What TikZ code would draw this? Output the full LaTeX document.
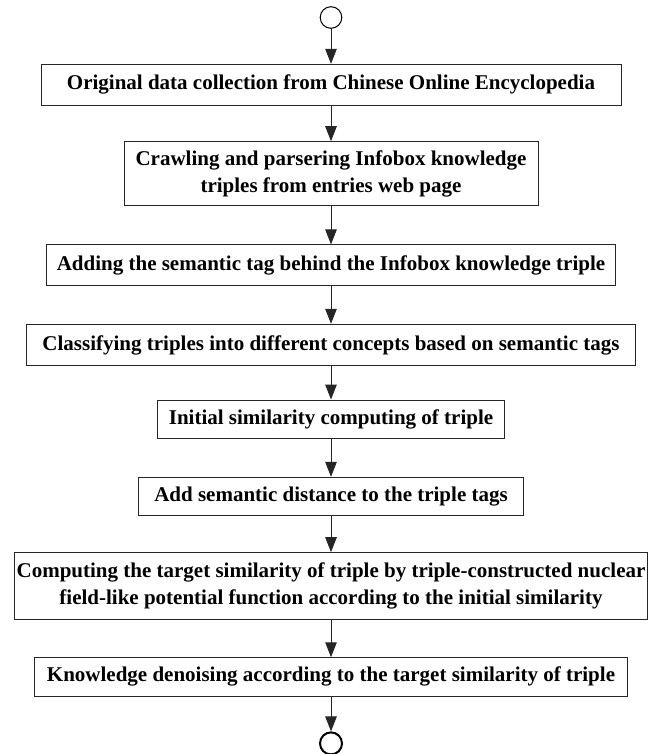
\documentclass[tikz,border=0pt]{standalone}
\usepackage{fontspec}
\setmainfont{Liberation Serif}
\usetikzlibrary{arrows.meta}
\begin{document}
\begin{tikzpicture}[x=1pt,y=-1pt,
  box/.style={draw=black!85, line width=1pt, inner sep=0pt, align=center,
    font=\fontsize{21}{27}\selectfont\bfseries},
  arr/.style={draw=black!85, line width=1pt, -{Triangle[width=11.5pt,length=15pt]}},
  endpt/.style={draw=black, circle, inner sep=0pt}]
\useasboundingbox (0,0) rectangle (655,754);
\node[endpt, line width=1pt, minimum size=21.6pt] (start) at (331,17.5) {};
\node[box, minimum width=580pt, minimum height=40.7pt] (b1) at (331,84.7)
  {Original data collection from Chinese Online Encyclopedia};
\node[box, minimum width=414pt, minimum height=64pt] (b2) at (331,173.7)
  {Crawling and parsering Infobox knowledge\\triples from entries web page};
\node[box, minimum width=568.7pt, minimum height=40.7pt] (b3) at (331,265.3)
  {Adding the semantic tag behind the Infobox knowledge triple};
\node[box, minimum width=608.3pt, minimum height=41.4pt] (b4) at (331,345)
  {Classifying triples into different concepts based on semantic tags};
\node[box, minimum width=346.7pt, minimum height=38.3pt] (b5) at (331,419.2)
  {Initial similarity computing of triple};
\node[box, minimum width=385pt, minimum height=37.7pt] (b6) at (331,496.2)
  {Add semantic distance to the triple tags};
\node[box, minimum width=633pt, minimum height=67.3pt] (b7) at (331,586.3)
  {Computing the target similarity of triple by triple-constructed nuclear\\field-like potential function according to the initial similarity};
\node[box, minimum width=593.3pt, minimum height=38.3pt] (b8) at (331,676.9)
  {Knowledge denoising according to the target similarity of triple};
\node[endpt, line width=2pt, minimum size=22pt] (stop) at (331,743.4) {};
\draw[arr] (start) -- (b1);
\draw[arr] (b1) -- (b2);
\draw[arr] (b2) -- (b3);
\draw[arr] (b3) -- (b4);
\draw[arr] (b4) -- (b5);
\draw[arr] (b5) -- (b6);
\draw[arr] (b6) -- (b7);
\draw[arr] (b7) -- (b8);
\draw[arr] (b8) -- (stop);
\end{tikzpicture}
\end{document}
